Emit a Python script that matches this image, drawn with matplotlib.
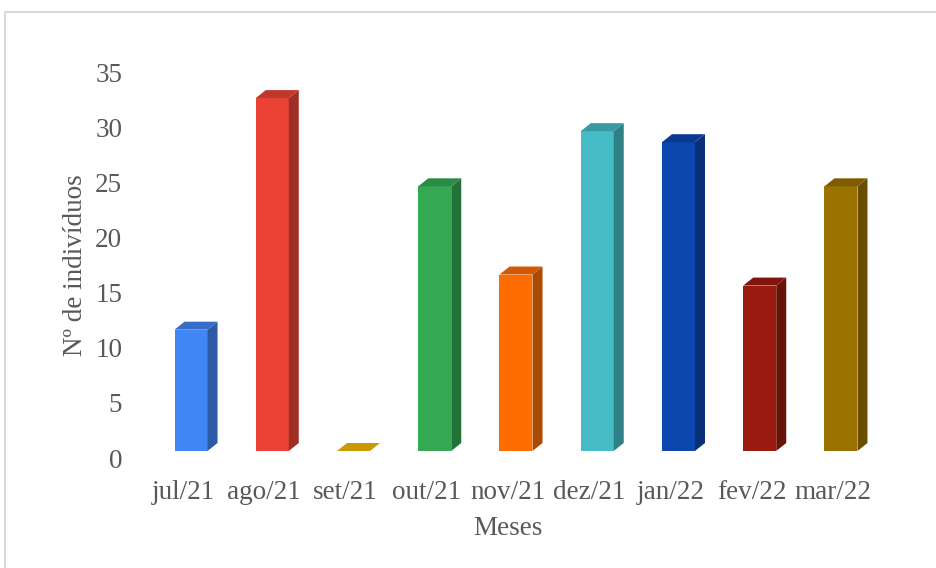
import numpy as np
import matplotlib.pyplot as plt
from matplotlib.patches import Polygon, Rectangle
from matplotlib.lines import Line2D
from matplotlib.colors import to_rgb
import matplotlib.transforms as mtransforms

meses = ['jul/21', 'ago/21', 'set/21', 'out/21', 'nov/21',
         'dez/21', 'jan/22', 'fev/22', 'mar/22']
individuos = [11, 32, 0, 24, 16, 29, 28, 15, 24]
cores = ['#4285F4', '#EA4335', '#F5BC04', '#34A853', '#FF6D01',
         '#46BDC6', '#0B47AE', '#9B1A0F', '#9A7200']

plt.rcParams['font.family'] = ['Liberation Serif', 'DejaVu Serif']
cinza = '#595959'
fs = 19.5

W, H = 937, 568
fig = plt.figure(figsize=(W / 100, H / 100), dpi=100)
left, right, top, bottom = 142.4, 873.6, 72, 458
ax = fig.add_axes([left / W, 1 - bottom / H, (right - left) / W, (bottom - top) / H])

n = len(meses)
ax.set_xlim(-0.5, n - 0.5)
ax.set_ylim(0, 35)

# pixel -> data unit factors for the 3D depth effect
px_x = n / (right - left)
px_y = 35 / (bottom - top)
dx, dy = 10 * px_x, 8 * px_y
largura = 33 * px_x
desloc = 8 * px_x

# bars sit slightly above the zero line of the back wall
trans = ax.transData + mtransforms.ScaledTranslation(0, 7 / 100, fig.dpi_scale_trans)


def escurecer(cor, f):
    r, g, b = to_rgb(cor)
    return (r * f, g * f, b * f)


for i, (v, c) in enumerate(zip(individuos, cores)):
    x0 = i + desloc - largura / 2
    x1 = x0 + largura
    if v > 0:
        ax.add_patch(Rectangle((x0, 0), largura, v, facecolor=c,
                               edgecolor='none', transform=trans, clip_on=False))
        ax.add_patch(Polygon([(x1, 0), (x1 + dx, dy), (x1 + dx, v + dy), (x1, v)],
                             closed=True, facecolor=escurecer(c, 0.68),
                             edgecolor='none', transform=trans, clip_on=False))
    ax.add_patch(Polygon([(x0, v), (x1, v), (x1 + dx, v + dy), (x0 + dx, v + dy)],
                         closed=True, facecolor=escurecer(c, 0.82),
                         edgecolor='none', transform=trans, clip_on=False))

ax.set_xticks(range(n))
ax.set_xticklabels(meses)
ax.set_yticks(range(0, 36, 5))
ax.tick_params(axis='both', length=0, labelsize=fs, labelcolor=cinza)
ax.tick_params(axis='x', pad=16)
ax.tick_params(axis='y', pad=14.5)
for s in ax.spines.values():
    s.set_visible(False)

ax.set_xlabel('Meses', fontsize=fs, color=cinza, labelpad=8)
ax.set_ylabel('Nº de indivíduos', fontsize=fs, color=cinza, labelpad=5)

# chart area border (top and left edges)
fig.add_artist(Line2D([4.5 / W, 4.5 / W, 1], [0, 1 - 12 / H, 1 - 12 / H],
                      transform=fig.transFigure, color='#D9D9D9', linewidth=1.5))

fig.savefig('out.png', dpi=100)
